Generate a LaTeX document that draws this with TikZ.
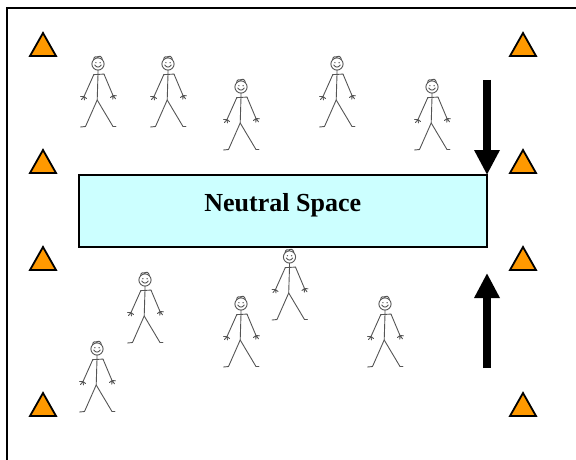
\documentclass[tikz,border=0pt]{standalone}
\usepackage{fontspec}
\setmainfont{Liberation Serif}
\usetikzlibrary{arrows.meta}
\definecolor{coneorange}{HTML}{FF9900}
\definecolor{zonecyan}{HTML}{CCFFFF}
\definecolor{figgray}{HTML}{555555}
\tikzset{
  figline/.style={draw=figgray, line width=0.9pt, line cap=round, line join=round},
  conestyle/.style={draw=black, fill=coneorange, line width=1.8pt, line join=miter},
  bigarrow/.style={draw=black, line width=8pt, -{Triangle[width=24pt,length=25pt]}},
  zonebox/.style={draw=black, fill=zonecyan, line width=2pt, outer sep=0pt},
  % traffic cone marker, origin at the middle of its base
  cone/.pic={\path[conestyle] (-13,0) -- (0,-23) -- (13,0) -- cycle;},
  % stick person, origin at the centre of the head
  person/.pic={
    \draw[figline] (0,0) circle[radius=6.1pt];
    \draw[figline] (-4.4,-4.4) .. controls (-4.2,-7.6) and (-1.5,-8.2) .. (0.2,-6.6)
                   (-1,-7.2) .. controls (1,-8.8) and (3.6,-8) .. (4.4,-4.6);
    \fill[figgray] (-2.1,-1.3) circle[radius=0.7pt] (2.1,-1.3) circle[radius=0.7pt];
    \draw[figline] (-3.2,1) .. controls (-1.2,3.8) and (1.2,3.8) .. (3.2,1);
    \draw[figline] (0,6.1) -- (0,10.3) -- (-0.8,36);
    \draw[figline] (-4.2,10.6) -- (6,10.1);
    \draw[figline] (-4.2,10.6) -- (-14,32.5);
    \draw[figline] (6,10.1) -- (15,31.5);
    \draw[figline] (-14,32.5) -- (-17.5,32.5) (-14,32.5) -- (-16.5,35.5)
                   (-14,32.5) -- (-13.5,36) (-14,32.5) -- (-11.5,34.5);
    \draw[figline] (15,31.5) -- (18.5,31.8) (15,31.5) -- (17.5,34.8)
                   (15,31.5) -- (14.8,35.2) (15,31.5) -- (12.5,33.5);
    \draw[figline] (-0.8,36) -- (-12.5,62.5) -- (-17.5,63);
    \draw[figline] (-0.8,36) -- (15,62.5) -- (18,62.5);
  }
}
\begin{document}
\begin{tikzpicture}[x=1pt, y=-1pt]
  \useasboundingbox (0,0) rectangle (576,460);

  % field border (top and left sides)
  \draw[line width=2pt] (6.5,460) -- (6.5,8.5) -- (576,8.5);

  % cones along both sides
  \foreach \cx in {43,523}
    \foreach \cy in {56,173,270,416}
      \pic at (\cx,\cy) {cone};

  % central zone
  \node[zonebox, minimum width=408.5pt, minimum height=71.5pt, anchor=north west]
    (neutral) at (78.5,175) {};
  \node[anchor=base, inner sep=0pt, font=\bfseries\fontsize{26}{30}\selectfont]
    (neutrallabel) at (282.75,211) {Neutral Space};

  % players above the zone
  \pic at (98,64) {person};
  \pic at (168,64) {person};
  \pic at (241,87) {person};
  \pic at (337,64) {person};
  \pic at (432,87) {person};

  % players below the zone
  \pic at (145,280) {person};
  \pic at (289.5,257) {person};
  \pic at (241,304) {person};
  \pic at (385,304) {person};
  \pic at (97,349) {person};

  % direction arrows
  \coordinate (downstart) at (487,80);
  \draw[bigarrow] (downstart) -- (neutral.north east);
  \coordinate (upstart) at (487,368);
  \coordinate (uptip) at (487,273);
  \draw[bigarrow] (upstart) -- (uptip);
\end{tikzpicture}
\end{document}
